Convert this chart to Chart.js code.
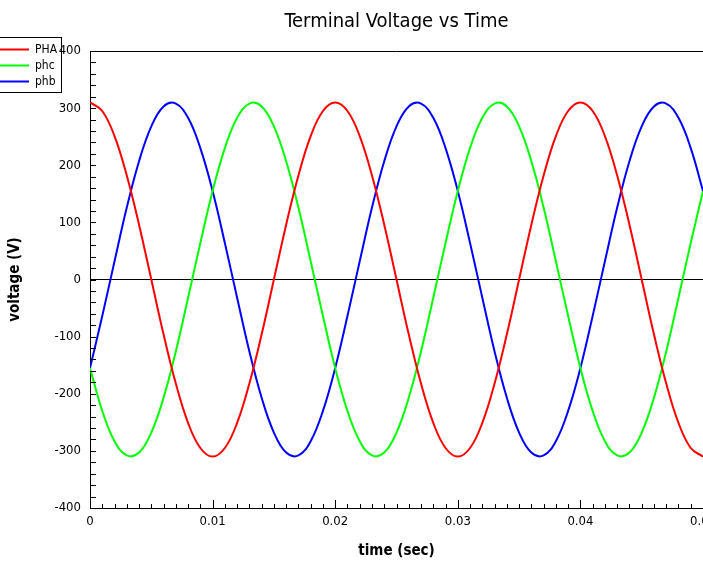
<!DOCTYPE html>
<html>
<head>
<meta charset="utf-8">
<script src="https://cdn.jsdelivr.net/npm/chart.js@4/dist/chart.umd.min.js"></script>
<style>
  html, body { margin: 0; padding: 0; background: #fff; overflow: hidden; }
</style>
</head>
<body>
<canvas id="voltChart" width="703" height="562"></canvas>
<script>
// time samples (sec)
const time = [
  0, 0.001, 0.002, 0.003, 0.004, 0.005, 0.006, 0.007, 0.008, 0.009,
  0.010, 0.011, 0.012, 0.013, 0.014, 0.015, 0.016, 0.017, 0.018, 0.019,
  0.020, 0.021, 0.022, 0.023, 0.024, 0.025, 0.026, 0.027, 0.028, 0.029,
  0.030, 0.031, 0.032, 0.033, 0.034, 0.035, 0.036, 0.037, 0.038, 0.039,
  0.040, 0.041, 0.042, 0.043, 0.044, 0.045, 0.046, 0.047, 0.048, 0.049,
  0.050
];
// terminal voltages (V)
const PHA = [
  310, 295, 251, 182, 96, 0, -96, -182, -251, -295,
  -310, -295, -251, -182, -96, 0, 96, 182, 251, 295,
  310, 295, 251, 182, 96, 0, -96, -182, -251, -295,
  -310, -295, -251, -182, -96, 0, 96, 182, 251, 295,
  310, 295, 251, 182, 96, 0, -96, -182, -251, -295,
  -310
];
const phc = [
  -155, -230, -283, -308, -303, -268, -207, -126, -32, 64,
  155, 230, 283, 308, 303, 268, 207, 126, 32, -64,
  -155, -230, -283, -308, -303, -268, -207, -126, -32, 64,
  155, 230, 283, 308, 303, 268, 207, 126, 32, -64,
  -155, -230, -283, -308, -303, -268, -207, -126, -32, 64,
  155
];
const phb = [
  -155, -64, 32, 126, 207, 268, 303, 308, 283, 230,
  155, 64, -32, -126, -207, -268, -303, -308, -283, -230,
  -155, -64, 32, 126, 207, 268, 303, 308, 283, 230,
  155, 64, -32, -126, -207, -268, -303, -308, -283, -230,
  -155, -64, 32, 126, 207, 268, 303, 308, 283, 230,
  155
];

const FONT = "'DejaVu Sans Condensed', 'Liberation Sans Narrow', 'Liberation Sans', sans-serif";

function pts(vals) {
  return time.map((t, i) => ({ x: t, y: vals[i] }));
}

const data = {
  datasets: [
    { label: 'PHA', data: pts(PHA), borderColor: '#ff0000' },
    { label: 'phc', data: pts(phc), borderColor: '#00ff00' },
    { label: 'phb', data: pts(phb), borderColor: '#0000ff' }
  ]
};

// tick marks drawn inside the plot, top frame line and the legend box
const frame = {
  id: 'frame',
  afterDraw(chart) {
    const ctx = chart.ctx;
    const a = chart.chartArea;
    const xs = chart.scales.x, ys = chart.scales.y;
    ctx.save();
    ctx.strokeStyle = '#000';
    ctx.lineWidth = 1;
    ctx.beginPath();
    ctx.moveTo(a.left, Math.round(a.top) + 0.5);
    ctx.lineTo(a.right, Math.round(a.top) + 0.5);
    for (let v = -400; v <= 400; v += 20) {
      const py = Math.round(ys.getPixelForValue(v)) + 0.5;
      ctx.moveTo(a.left, py);
      ctx.lineTo(a.left + 6, py);
    }
    for (let k = 0; k <= 50; k++) {
      const px = Math.round(xs.getPixelForValue(k / 1000)) + 0.5;
      const len = k % 10 === 0 ? 8 : 4;
      ctx.moveTo(px, a.bottom);
      ctx.lineTo(px, a.bottom - len);
    }
    ctx.stroke();

    // legend
    ctx.strokeRect(-1.5, 37.5, 63, 55);
    ctx.font = '12px ' + FONT;
    ctx.textBaseline = 'middle';
    ctx.fillStyle = '#000';
    chart.data.datasets.forEach((ds, i) => {
      const y = 49.5 + i * 16;
      ctx.strokeStyle = ds.borderColor;
      ctx.lineWidth = 2;
      ctx.beginPath();
      ctx.moveTo(0, y);
      ctx.lineTo(29, y);
      ctx.stroke();
      ctx.fillText(ds.label, 35, y);
    });
    ctx.restore();
  }
};

const config = {
  type: 'line',
  data,
  options: {
    responsive: false,
    animation: false,
    events: [],
    elements: {
      line: { borderWidth: 2, tension: 0.4, fill: false },
      point: { radius: 0 }
    },
    layout: { padding: 0 },
    plugins: {
      legend: { display: false },
      tooltip: { enabled: false },
      title: {
        display: true,
        text: 'Terminal Voltage vs Time',
        fullSize: false,
        color: '#000',
        font: { family: FONT, size: 20, weight: 'normal', lineHeight: 1 },
        padding: { top: 12, bottom: 19 }
      }
    },
    scales: {
      x: {
        type: 'linear',
        min: 0,
        max: 0.05,
        grid: { display: true, drawOnChartArea: false, drawTicks: false },
        border: { display: true, color: '#000', width: 1 },
        ticks: {
          stepSize: 0.01,
          color: '#000',
          padding: 6,
          maxRotation: 0,
          font: { family: FONT, size: 13 },
          callback: v => v === 0 ? '0' : String(+v.toFixed(2))
        },
        title: {
          display: true,
          text: 'time (sec)',
          color: '#000',
          font: { family: FONT, size: 15, weight: 'bold', lineHeight: 1.2 },
          padding: { top: 0, bottom: 2 }
        },
        afterFit(s) { s.height = 54; s.paddingLeft = 0; s.paddingRight = 0; }
      },
      y: {
        min: -400,
        max: 400,
        grid: {
          drawTicks: false,
          color: c => (c.tick && c.tick.value === 0) ? '#000' : 'rgba(0,0,0,0)',
          lineWidth: 1
        },
        border: { display: true, color: '#000', width: 1 },
        ticks: {
          stepSize: 100,
          color: '#000',
          padding: 9,
          font: { family: FONT, size: 13 }
        },
        title: {
          display: true,
          text: 'voltage (V)',
          color: '#000',
          font: { family: FONT, size: 15, weight: 'bold', lineHeight: 1.2 },
          padding: { top: 6, bottom: 0 }
        },
        afterFit(s) { s.width = 90; s.paddingTop = 0; s.paddingBottom = 0; }
      }
    }
  },
  plugins: [frame]
};

var voltChart = new Chart(document.getElementById('voltChart'), config);
</script>
</body>
</html>
